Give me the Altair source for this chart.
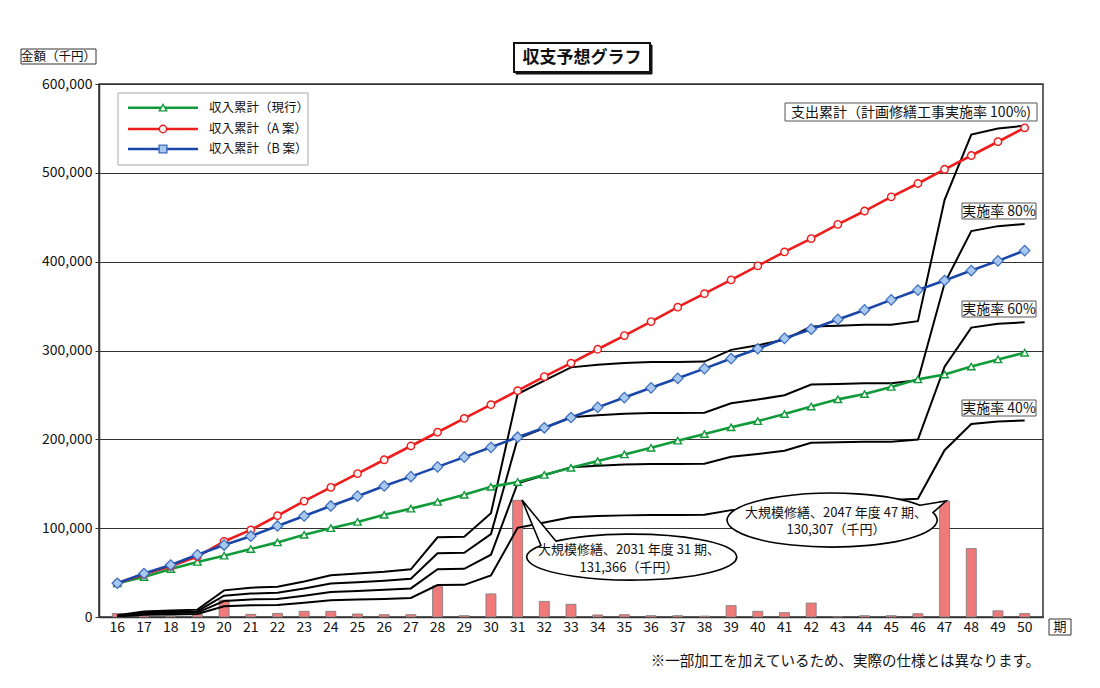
import altair as alt
import pandas as pd

FONT = "Noto Sans CJK JP"

# ---- data (千円) ----
periods = [16, 17, 18, 19, 20, 21, 22, 23, 24, 25, 26, 27, 28, 29, 30, 31, 32, 33,
           34, 35, 36, 37, 38, 39, 40, 41, 42, 43, 44, 45, 46, 47, 48, 49, 50]

income_current = [38000, 45000, 54000, 62000, 69000, 76500, 84000, 92500, 100000, 107000,
                  115000, 122000, 129500, 137500, 146500, 152000, 160000, 168000, 175500,
                  183000, 190500, 198500, 206000, 213500, 220500, 228500, 237000, 245000,
                  251000, 259000, 267500, 273000, 282000, 290000, 297500]
income_a = [38000, 48000, 57000, 68000, 85000, 98000, 114000, 130500, 146000, 161500,
            177000, 192500, 208000, 223500, 239000, 254800, 270600, 285700, 301400,
            316800, 332600, 348800, 364000, 379500, 395300, 411000, 426000, 442000,
            457000, 473000, 488000, 504000, 519500, 535000, 550700]
income_b = [38000, 49000, 58500, 70000, 81000, 91000, 102500, 113700, 125000, 136000,
            147500, 158000, 169000, 180000, 191000, 202400, 213000, 224600, 236000,
            247000, 258000, 268700, 279600, 290900, 302000, 313700, 324000, 335000,
            345700, 357000, 368000, 378800, 390000, 400900, 412500]

expense_100 = [2000, 6300, 7300, 8300, 30000, 33000, 34000, 40000, 47000, 49000, 51000,
               53700, 89700, 90400, 116800, 251000, 266000, 281000, 284000, 286000,
               287000, 287000, 287500, 300700, 306000, 312000, 327000, 328000, 329000,
               329000, 333000, 469600, 543000, 550000, 553000]
expense_80 = [1600, 5000, 5800, 6600, 24000, 26400, 27200, 32000, 37600, 39200, 40800,
              43000, 71800, 72300, 93400, 200800, 212800, 224800, 227200, 228800,
              229600, 229600, 230000, 240600, 244800, 249600, 261600, 262400, 263200,
              263200, 266400, 375700, 434400, 440000, 442400]
expense_60 = [1200, 3800, 4400, 5000, 18000, 19800, 20400, 24000, 28200, 29400, 30600,
              32200, 53800, 54200, 70100, 150600, 159600, 168600, 170400, 171600,
              172200, 172200, 172500, 180400, 183600, 187200, 196200, 196800, 197400,
              197400, 199800, 281800, 325800, 330000, 331800]
expense_40 = [800, 2500, 2900, 3300, 12000, 13200, 13600, 16000, 18800, 19600, 20400,
              21500, 35900, 36200, 46700, 100400, 106400, 112400, 113600, 114400,
              114800, 114800, 115000, 120300, 122400, 124800, 130800, 131200, 131600,
              131600, 133200, 187800, 217200, 220000, 221200]

annual_expense = [4000, 2300, 1000, 2800, 19000, 3000, 4000, 6400, 6400, 3400, 2600, 2600,
                  35000, 1500, 26000, 131366, 17600, 14300, 2300, 2600, 1500, 1500, 1000,
                  12800, 6400, 4900, 15700, 500, 1500, 1500, 3700, 130307, 77000, 7000, 4000]

legend_labels = ["収入累計（現行）", "収入累計（A 案）", "収入累計（B 案）"]

# ---- tables ----
bars_df = pd.DataFrame({"period": periods, "value": annual_expense})
income_df = {
    "current": pd.DataFrame({"period": periods, "value": income_current}),
    "a": pd.DataFrame({"period": periods, "value": income_a}),
    "b": pd.DataFrame({"period": periods, "value": income_b}),
}
exp_rows = []
for name, arr in [("100", expense_100), ("80", expense_80), ("60", expense_60), ("40", expense_40)]:
    for p, v in zip(periods, arr):
        exp_rows.append({"period": p, "value": v, "rate": name})
exp_df = pd.DataFrame(exp_rows)
tick_df = pd.DataFrame({"period": periods, "lab": [str(p) for p in periods]})

x_scale = alt.Scale(domain=[15.5, 50.5], nice=False, zero=False)
y_scale = alt.Scale(domain=[0, 600000], nice=False)

x_enc = alt.X("period:Q", scale=x_scale,
              axis=alt.Axis(values=periods, title=None, ticks=False, grid=False,
                            labels=False, domainColor="#333", domainWidth=1.5))
y_enc = alt.Y("value:Q", scale=y_scale,
              axis=alt.Axis(values=[0, 100000, 200000, 300000, 400000, 500000, 600000],
                            format=",d", title=None, labelFontSize=14, labelFont=FONT,
                            labelColor="#111", tickSize=4, tickColor="#333",
                            labelPadding=3, grid=True, gridColor="#333", gridWidth=1,
                            domainColor="#333", domainWidth=1.5, labelOverlap=False))

bars = alt.Chart(bars_df).mark_bar(size=10, fill="#f07a7a", stroke="#777",
                                   strokeWidth=0.8).encode(x=x_enc, y=y_enc)

# x tick labels placed through the x scale
x_labels = alt.Chart(tick_df).mark_text(font=FONT, fontSize=14, color="#111",
                                        baseline="middle", align="center").encode(
    x="period:Q", y=alt.value(544), text="lab:N")

exp_lines = alt.Chart(exp_df).mark_line(color="black", strokeWidth=2).encode(
    x="period:Q", y="value:Q", detail="rate:N")

green = alt.Chart(income_df["current"]).mark_line(
    color="#119a3a", strokeWidth=2.6,
    point=alt.OverlayMarkDef(shape="triangle-up", size=55, filled=True, fill="white",
                             stroke="#119a3a", strokeWidth=1.4)
).encode(x="period:Q", y="value:Q")
red = alt.Chart(income_df["a"]).mark_line(
    color="#ee1c1c", strokeWidth=2.6,
    point=alt.OverlayMarkDef(shape="circle", size=55, filled=True, fill="#fff4f4",
                             stroke="#ee1c1c", strokeWidth=1.4)
).encode(x="period:Q", y="value:Q")
blue = alt.Chart(income_df["b"]).mark_line(
    color="#1a46a8", strokeWidth=2.6,
    point=alt.OverlayMarkDef(shape="diamond", size=110, filled=True, fill="#a9c8ee",
                             stroke="#3a6cc0", strokeWidth=1.2)
).encode(x="period:Q", y="value:Q")

one = pd.DataFrame({"k": [0]})


def box(x1, y1, x2, y2, stroke="#555", sw=1.0, fill="white"):
    return alt.Chart(one).mark_rect(fill=fill, stroke=stroke, strokeWidth=sw).encode(
        x=alt.value(x1), x2=alt.value(x2), y=alt.value(y1), y2=alt.value(y2))


def label(x, y, s, size=14, align="center", weight="normal", color="#111"):
    return alt.Chart(one).mark_text(text=s, font=FONT, fontSize=size, align=align,
                                    baseline="middle", fontWeight=weight,
                                    color=color).encode(x=alt.value(x), y=alt.value(y))


# legend (manual)
legend_parts = [box(19, 9, 209, 81, stroke="#aaaaaa", sw=1)]
leg_specs = [("#119a3a", "triangle-up", "white", "#119a3a", 55, 23.7),
             ("#ee1c1c", "circle", "#fff4f4", "#ee1c1c", 55, 45),
             ("#1a46a8", "square", "#a9c8ee", "#3a6cc0", 60, 65)]
for (col, shp, fil, stk, sz, yy), txt in zip(leg_specs, legend_labels):
    legend_parts.append(alt.Chart(one).mark_rule(color=col, strokeWidth=2.6).encode(
        x=alt.value(29), x2=alt.value(99), y=alt.value(yy)))
    legend_parts.append(alt.Chart(one).mark_point(shape=shp, size=sz, filled=True,
                                                  fill=fil, stroke=stk, strokeWidth=1.4,
                                                  opacity=1).encode(
        x=alt.value(64), y=alt.value(yy)))
    legend_parts.append(label(110, yy, txt, size=12.5, align="left"))

# right-hand series labels
rate_labels = [
    box(686, 19, 938, 37), label(812, 28.5, "支出累計（計画修繕工事実施率 100%)", size=14),
    box(863, 119, 937, 135), label(900, 127.5, "実施率 80%", size=14),
    box(863, 217, 937, 233), label(900, 225.5, "実施率 60%", size=14),
    box(863, 316, 937, 332), label(900, 324.5, "実施率 40%", size=14),
]

# title, axis titles
titles = [
    box(417, -39, 553, -10, stroke="#111", sw=1, fill="#111"),
    box(415, -41, 551, -12, stroke="#111", sw=2),
    label(483, -26.5, "収支予想グラフ", size=17, weight="bold"),
    box(-78, -35, -3, -20, stroke="#333", sw=1),
    label(-40.5, -27.5, "金額（千円）", size=12.5),
    box(950, 535, 972, 551, stroke="#333", sw=1),
    label(961, 543, "期", size=13),
    label(941, 578, "※一部加工を加えているため、実際の仕様とは異なります。", size=14.5,
          align="right"),
]

# callout bubbles
path31 = "M-0.867,-0.1095L-1.048,-0.543L-0.724,-0.151A1,0.219,0,1,1,-0.867,-0.1095Z"
path47 = "M0.838,-0.140L1.086,-0.181L0.962,-0.0705A1,0.257,0,1,1,0.838,-0.140Z"
callouts = [
    alt.Chart(one).mark_point(shape=path31, size=44100, filled=True, fill="white",
                              stroke="black", strokeWidth=1.6, opacity=1).encode(
        x=alt.value(533), y=alt.value(473)),
    label(530, 466, "大規模修繕、2031 年度 31 期、", size=13),
    label(530, 483.5, "131,366（千円）", size=13),
    alt.Chart(one).mark_point(shape=path47, size=44100, filled=True, fill="white",
                              stroke="black", strokeWidth=1.6, opacity=1).encode(
        x=alt.value(733), y=alt.value(436)),
    label(737, 428.5, "大規模修繕、2047 年度 47 期、", size=13),
    label(737, 446, "130,307（千円）", size=13),
]

chart = alt.layer(bars, x_labels, exp_lines, green, red, blue, *legend_parts, *rate_labels,
                  *titles, *callouts).properties(
    width=944, height=533,
    padding={"left": 91, "top": 76, "right": 49, "bottom": 63},
    autosize=alt.AutoSizeParams(type="none"),
    background="white",
).configure_view(stroke="#333", strokeWidth=1.5)

chart.save("out.html", embed_options={"renderer": "svg", "actions": False})
